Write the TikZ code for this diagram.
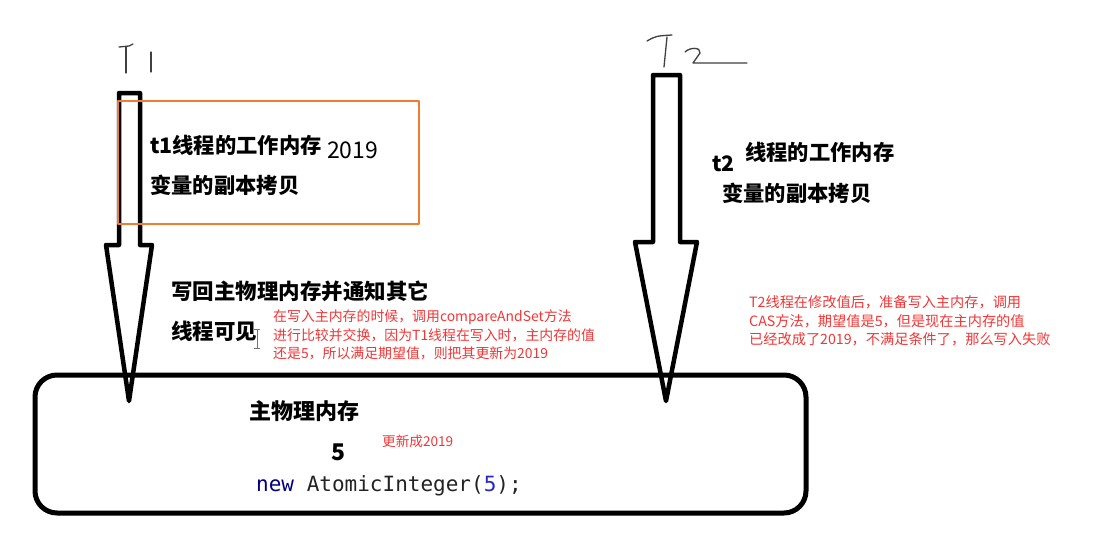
\documentclass[tikz,border=0pt]{standalone}
\usepackage{fontspec}
\newfontfamily\cjk{Noto Sans CJK SC}
\newfontfamily\mono{DejaVu Sans Mono}
\definecolor{boxorange}{RGB}{237,125,49}
\definecolor{notered}{RGB}{240,55,55}
\definecolor{kwnavy}{RGB}{0,0,128}
\definecolor{numblue}{RGB}{40,40,200}
\definecolor{codegray}{RGB}{35,35,35}
\begin{document}
\begin{tikzpicture}[x=1pt,y=-1pt,line join=round,
  blockarrow/.style={draw=black,line width=4.5pt,line join=round},
  mainbox/.style={draw=black,line width=5pt,rounded corners=22pt},
  copybox/.style={draw=boxorange,line width=2pt},
  hand/.style={draw=black!75,line width=1.3pt,line cap=round},
  bigtxt/.style={anchor=west,inner sep=0pt,font=\cjk\bfseries\fontsize{21.3}{24}\selectfont},
  midtxt/.style={anchor=west,inner sep=0pt,font=\cjk\bfseries\fontsize{21.5}{24}\selectfont},
  numtxt/.style={anchor=west,inner sep=0pt,font=\cjk\fontsize{23}{26}\selectfont},
  redtxt/.style={anchor=west,inner sep=0pt,text=notered,align=left,font=\cjk\fontsize{14.2}{18.3}\selectfont},
  codetxt/.style={anchor=west,inner sep=0pt,text=codegray,font=\mono\fontsize{21}{24}\selectfont}
]
\useasboundingbox (0,0) rectangle (1095,541);
\fill[white] (0,0) rectangle (1095,541);

% main memory box
\draw[mainbox] (35,375) rectangle (806,513);

% block arrows
\draw[blockarrow] (119,93) -- (140,93) -- (140,245) -- (152,245) -- (129,401) -- (106,245) -- (119,245) -- cycle;
\draw[blockarrow] (653,75) -- (680,75) -- (680,242) -- (697,242) -- (666,401) -- (635,242) -- (653,242) -- cycle;

% orange working-copy box
\draw[copybox] (118,101) rectangle (419,224);

% handwritten T1
\draw[hand] (119,47) -- (129,46) -- (133,44);
\draw[hand] (126,47) -- (126,73);
\draw[hand] (151,52) -- (151,72);

% handwritten T2
\draw[hand] (647,41) .. controls (656,36) .. (672,35);
\draw[hand] (667,37) -- (664,67);
\draw[hand] (685,52) .. controls (690,47) and (701,47) .. (700,53) -- (693,63) -- (747,63);

% texts, left thread
\node[bigtxt] (t1a) at (150,145) {t1线程的工作内存};
\node[numtxt] (v2019) at (327,150) {2019};
\node[bigtxt] (t1b) at (150,185) {变量的副本拷贝};
\node[midtxt] (wb1) at (171,291) {写回主物理内存并通知其它};
\node[midtxt] (wb2) at (171,331) {线程可见};
\node[redtxt,font=\cjk\fontsize{13.9}{18.3}\selectfont] (n1) at (273,335) {在写入主内存的时候，调用compareAndSet方法\\进行比较并交换，因为T1线程在写入时，主内存的值\\还是5，所以满足期望值，则把其更新为2019};

% I-beam cursor
\draw[draw=black!55,line width=1pt] (254,329) -- (260,329) (257,329) -- (257,348) (254,348) -- (260,348);

% texts, right thread
\node[bigtxt] (t2a) at (745,152) {线程的工作内存};
\node[bigtxt] (t2n) at (712,164) {t2};
\node[bigtxt] (t2b) at (722,193) {变量的副本拷贝};
\node[redtxt] (n2) at (749,321) {T2线程在修改值后，准备写入主内存，调用\\CAS方法，期望值是5，但是现在主内存的值\\已经改成了2019，不满足条件了，那么写入失败};

% main memory texts
\node[midtxt,font=\cjk\bfseries\fontsize{22}{24}\selectfont] (mm) at (249,411) {主物理内存};
\node[bigtxt,font=\cjk\bfseries\fontsize{23}{24}\selectfont] (five) at (331,452) {5};
\node[redtxt,font=\cjk\fontsize{13.6}{16}\selectfont] (upd) at (382,441) {更新成2019};
\node[codetxt] (code) at (256,486) {\textcolor{kwnavy}{new} AtomicInteger(\textcolor{numblue}{5});};
\end{tikzpicture}
\end{document}
